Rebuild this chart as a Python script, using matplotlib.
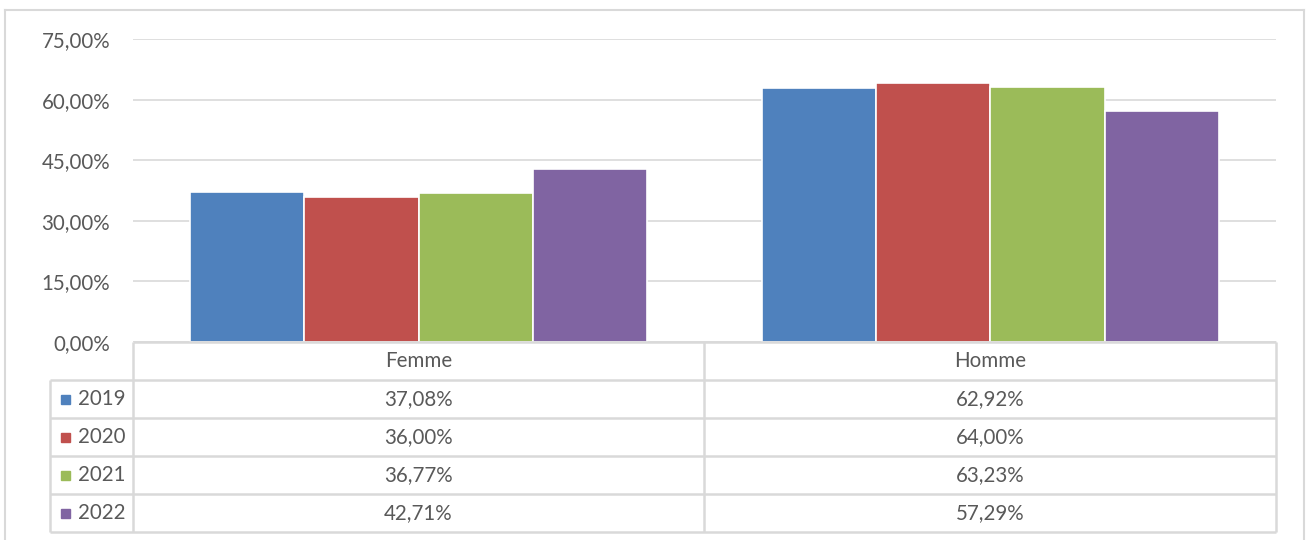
import matplotlib.pyplot as plt
import numpy as np
from matplotlib.lines import Line2D
from matplotlib.ticker import FuncFormatter

plt.rcParams['font.family'] = ['Lato', 'DejaVu Sans']

categories = ['Femme', 'Homme']
years = ['2019', '2020', '2021', '2022']
values = {
    '2019': [37.08, 62.92],
    '2020': [36.00, 64.00],
    '2021': [36.77, 63.23],
    '2022': [42.71, 57.29],
}
colors = ['#4F81BD', '#C0504D', '#9BBB59', '#8064A2']
yticks = [0, 15, 30, 45, 60, 75]

W, H = 1307, 540
text_col = '#595959'
line_col = '#D9D9D9'
fs = 14.8

fig = plt.figure(figsize=(W / 100, H / 100), dpi=100)

def px_box(x0, y0, x1, y1):
    # pixel box (top-left origin) -> figure fraction rect
    return [x0 / W, 1 - y1 / H, (x1 - x0) / W, (y1 - y0) / H]

# outer chart frame
for xs, ys in [((5, 5), (10, H)), ((5, 1304), (10, 10)), ((1304, 1304), (10, H))]:
    fig.add_artist(Line2D([x / W for x in xs], [1 - y / H for y in ys],
                          color=line_col, lw=1.5))

# column chart
ax = fig.add_axes(px_box(133, 39, 1276, 342))
x = np.arange(len(categories)) + 0.5
bw = 0.2
for i, yr in enumerate(years):
    ax.bar(x + (i - 1.5) * bw, values[yr], width=bw, color=colors[i],
           edgecolor='white', linewidth=1.2, zorder=3)

ax.set_xlim(0, 2)
ax.set_ylim(0, 75)
ax.set_yticks(yticks)
ax.yaxis.set_major_formatter(FuncFormatter(lambda v, p: f'{v:.2f}%'.replace('.', ',')))
ax.tick_params(axis='y', length=0, pad=16.5, labelsize=fs, labelcolor=text_col)
ax.set_xticks([])
ax.grid(axis='y', color=line_col, lw=1.2, zorder=0)
for s in ax.spines.values():
    s.set_visible(False)

# data table below the chart
tb = fig.add_axes(px_box(0, 0, W, H))
tb.set_xlim(0, W)
tb.set_ylim(H, 0)
tb.axis('off')

col_x = [50, 133, 704, 1276]
row_y = [342, 380, 418, 456, 494, 532]
lk = dict(color=line_col, lw=1.8, solid_capstyle='butt')

tb.plot([133, 1276], [row_y[0]] * 2, **lk)
for yy in row_y[1:]:
    tb.plot([50, 1276], [yy] * 2, **lk)
tb.plot([50, 50], [row_y[1], row_y[-1]], **lk)
for xx in col_x[1:]:
    tb.plot([xx, xx], [row_y[0], row_y[-1]], **lk)

def fmt(v):
    return f'{v:.2f}%'.replace('.', ',')

for j, cat in enumerate(categories):
    cx = (col_x[j + 1] + col_x[j + 2]) / 2
    tb.text(cx, (row_y[0] + row_y[1]) / 2, cat, ha='center', va='center',
            fontsize=fs, color=text_col)

for i, yr in enumerate(years):
    cy = (row_y[i + 1] + row_y[i + 2]) / 2
    tb.add_patch(plt.Rectangle((61, cy - 4.5), 9, 9, color=colors[i]))
    tb.text(78, cy, yr, ha='left', va='center', fontsize=fs, color=text_col)
    for j in range(len(categories)):
        cx = (col_x[j + 1] + col_x[j + 2]) / 2
        tb.text(cx, cy, fmt(values[yr][j]), ha='center', va='center',
                fontsize=fs, color=text_col)

fig.savefig('out.png', dpi=100)
